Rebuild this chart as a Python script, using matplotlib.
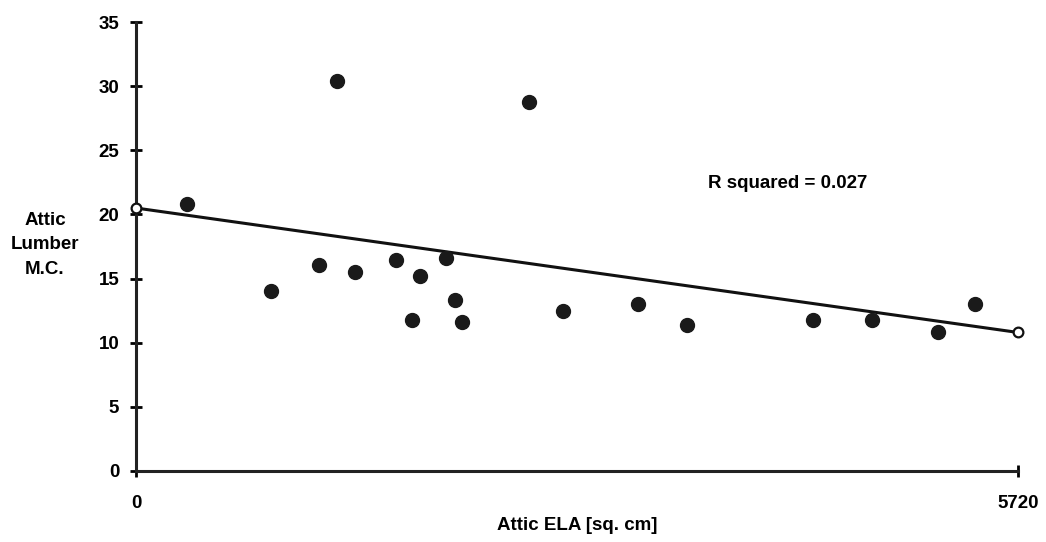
import matplotlib.pyplot as plt

# attic ELA (sq. cm) and attic lumber moisture content
ela = [333, 878, 1187, 1304, 1420, 1686, 1790, 1842, 2010, 2069, 2116,
       2547, 2771, 3256, 3571, 4388, 4774, 5200, 5441]
mc = [20.8, 14.0, 16.05, 30.4, 15.5, 16.45, 11.8, 15.2, 16.6, 13.3, 11.65,
      28.8, 12.5, 13.0, 11.35, 11.8, 11.75, 10.8, 13.0]

# regression line end points
fit_x = [0, 5720]
fit_y = [20.5, 10.8]

y_ticks = [0, 5, 10, 15, 20, 25, 30, 35]
x_ticks = [0, 5720]

plt.rcParams['font.family'] = 'Liberation Sans'
plt.rcParams['font.weight'] = 'bold'


def main():
    fig = plt.figure(figsize=(10.46, 5.42), dpi=100)
    ax = fig.add_axes([0.130, 0.131, 0.8432, 0.8284])

    ax.plot(fit_x, fit_y, color='#111111', lw=2.2, zorder=2)
    ax.plot(fit_x, fit_y, 'o', ms=7, mfc='white', mec='#111111', mew=1.6,
            zorder=3, clip_on=False)
    ax.plot(ela, mc, 'o', ms=10, color='#1a1a1a', zorder=4, clip_on=False)

    ax.set_xlim(0, 5720)
    ax.set_ylim(0, 35)
    ax.set_xticks(x_ticks)
    ax.set_yticks(y_ticks)

    for s in ['top', 'right']:
        ax.spines[s].set_visible(False)
    for s in ['left', 'bottom']:
        ax.spines[s].set_linewidth(2.2)
        ax.spines[s].set_color('#222222')

    ax.tick_params(axis='y', direction='inout', length=8, width=2,
                   labelsize=13.5, pad=8)
    ax.tick_params(axis='x', direction='inout', length=8, width=2,
                   labelsize=13.5, pad=13)

    ax.text(3710, 22.4, 'R squared = 0.027', fontsize=13.5,
            fontweight='bold', va='center', ha='left')

    ax.set_xlabel('Attic ELA [sq. cm]', fontsize=13.5, fontweight='bold',
                  labelpad=4)
    fig.text(0.043, 0.548, 'Attic\nLumber\nM.C.', ha='center', va='center',
             fontsize=13.5, fontweight='bold', linespacing=1.55)

    fig.savefig('out.png', dpi=100)


if __name__ == "__main__":
    main()
